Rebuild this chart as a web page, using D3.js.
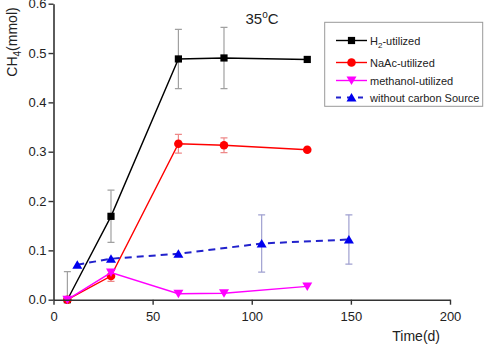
<!DOCTYPE html>
<html><head><meta charset="utf-8">
<script src="https://cdn.jsdelivr.net/npm/d3@7"></script>
<style>body{margin:0;background:#fff}svg{display:block}text{font-family:"Liberation Sans",Arial,sans-serif}</style>
</head><body><svg id="c" width="489" height="354"></svg>
<script>
// Data
const h2X = [7, 29, 63, 86, 128];
const h2Y = [0.0, 0.169, 0.488, 0.490, 0.487];
const h2Err = [0.057, 0.053, 0.060, 0.062, 0];
const naX = [7, 29, 63, 86, 128];
const naY = [0.0, 0.048, 0.316, 0.313, 0.304];
const naErr = [0, 0.011, 0.019, 0.015, 0];
const meX = [7, 29, 63, 86, 128];
const meY = [0.0, 0.055, 0.012, 0.013, 0.027];
const meErr = [0, 0, 0, 0, 0];
const bcX = [12, 29, 63, 105, 149];
const bcY = [0.071, 0.083, 0.093, 0.114, 0.122];
const bcErr = [0, 0, 0, 0.058, 0.050];
const xTicks = [0, 50, 100, 150, 200];
const yTicks = [0.0, 0.1, 0.2, 0.3, 0.4, 0.5, 0.6];
const seriesNames = ["H\u2082-utilized", "NaAc-utilized", "methanol-utilized", "without carbon Source"];

const svg = d3.select("#c");
const x = d3.scaleLinear().domain([0, 200]).range([53.5, 450]);
const y = d3.scaleLinear().domain([0, 0.6]).range([299.7, 3.7]);

const series = [
  {name: seriesNames[0], xs: h2X, ys: h2Y, err: h2Err, color: "#000", errColor: "#a0a0a0", sym: "square", dash: null},
  {name: seriesNames[1], xs: naX, ys: naY, err: naErr, color: "#f00", errColor: "#e88", sym: "circle", dash: null},
  {name: seriesNames[2], xs: meX, ys: meY, err: meErr, color: "#f0f", errColor: "#f8f", sym: "tridown", dash: null},
  {name: seriesNames[3], xs: bcX, ys: bcY, err: bcErr, color: "#00e", lineColor: "#2222cc", errColor: "#9fa0d0", sym: "triup", dash: "7,5"}
];

function drawSym(g, sym, cx, cy, color) {
  if (sym === "square") g.append("rect").attr("x", cx-3.6).attr("y", cy-3.6).attr("width", 7.2).attr("height", 7.2).attr("fill", color);
  else if (sym === "circle") g.append("circle").attr("cx", cx).attr("cy", cy).attr("r", 4.3).attr("fill", color);
  else if (sym === "tridown") g.append("path").attr("d", `M${cx-5},${cy-4}L${cx+5},${cy-4}L${cx},${cy+4.5}Z`).attr("fill", color);
  else if (sym === "triup") g.append("path").attr("d", `M${cx-5},${cy+4}L${cx+5},${cy+4}L${cx},${cy-4.5}Z`).attr("fill", color);
}

// clip
svg.append("clipPath").attr("id", "pc").append("rect").attr("x", 53.5).attr("y", 0).attr("width", 400).attr("height", 299.7);
const plot = svg.append("g").attr("clip-path", "url(#pc)");

// error bars
series.forEach(s => {
  s.xs.forEach((xv, i) => {
    const e = s.err[i];
    if (!e) return;
    const px = x(xv), top = y(s.ys[i] + e), bot = y(s.ys[i] - e);
    plot.append("line").attr("x1", px).attr("x2", px).attr("y1", top).attr("y2", bot).attr("stroke", s.errColor).attr("stroke-width", 1.2);
    [top, bot].forEach(yy => plot.append("line").attr("x1", px-3.5).attr("x2", px+3.5).attr("y1", yy).attr("y2", yy).attr("stroke", s.errColor).attr("stroke-width", 1.2));
  });
});

// lines and markers
series.forEach(s => {
  const pts = s.xs.map((xv, i) => [x(xv), y(s.ys[i])]);
  svg.append("path").attr("d", d3.line()(pts)).attr("fill", "none")
    .attr("stroke", s.lineColor || s.color).attr("stroke-width", s.dash ? 2 : 1.4)
    .attr("stroke-dasharray", s.dash);
  pts.forEach(p => drawSym(svg, s.sym, p[0], p[1], s.color));
});

// axes
const axCol = "#333";
const xAxis = svg.append("g").attr("transform", "translate(0,299.7)")
  .call(d3.axisBottom(x).tickValues(xTicks).tickFormat(d3.format("d")).tickSize(5).tickSizeOuter(0));
const yAxis = svg.append("g").attr("transform", "translate(53.5,0)")
  .call(d3.axisLeft(y).tickValues(yTicks).tickFormat(d3.format(".1f")).tickSize(5).tickSizeOuter(0));
[xAxis, yAxis].forEach(a => {
  a.select(".domain").attr("stroke", axCol).attr("stroke-width", 1.6);
  a.selectAll(".tick line").attr("stroke", axCol).attr("stroke-width", 1.4);
  a.selectAll(".tick text").attr("fill", "#222").style("font-size", "13px");
});
xAxis.selectAll(".tick text").attr("dy", "1.05em");
yAxis.selectAll(".tick text").attr("x", -7);

// axis labels
svg.append("text").attr("x", 440).attr("y", 341).attr("text-anchor", "end").style("font-size", "14px").attr("fill", "#222").text("Time(d)");
const yl = svg.append("text").attr("transform", "translate(17,42) rotate(-90)").attr("text-anchor", "middle").style("font-size", "14px").attr("fill", "#222");
yl.append("tspan").text("CH");
yl.append("tspan").attr("dy", 4).style("font-size", "10px").text("4");
yl.append("tspan").attr("dy", -4).text("(mmol)");

// title
const t = svg.append("text").attr("x", 262).attr("y", 24).attr("text-anchor", "middle").style("font-size", "15px").attr("fill", "#222");
t.append("tspan").text("35");
t.append("tspan").attr("dy", -6).style("font-size", "10px").text("o");
t.append("tspan").attr("dy", 6).text("C");

// legend
const lg = svg.append("g");
lg.append("rect").attr("x", 324.7).attr("y", 22.3).attr("width", 158).attr("height", 84).attr("fill", "#fff").attr("stroke", "#999").attr("stroke-width", 1);
const rowsY = [40.5, 62.5, 80.5, 97.5];
series.forEach((s, i) => {
  const ry = rowsY[i];
  lg.append("line").attr("x1", 336).attr("x2", 367).attr("y1", ry).attr("y2", ry)
    .attr("stroke", s.lineColor || s.color).attr("stroke-width", s.dash ? 2 : 1.4).attr("stroke-dasharray", s.dash ? "5,6" : null);
  drawSym(lg, s.sym, 351.5, ry, s.color);
  const tx = lg.append("text").attr("x", 370).attr("y", ry + 4).style("font-size", "11px").attr("fill", "#222");
  if (i === 0) {
    tx.append("tspan").text("H");
    tx.append("tspan").attr("dy", 3).style("font-size", "8px").text("2");
    tx.append("tspan").attr("dy", -3).text("-utilized");
  } else tx.text(s.name);
});
</script></body></html>
